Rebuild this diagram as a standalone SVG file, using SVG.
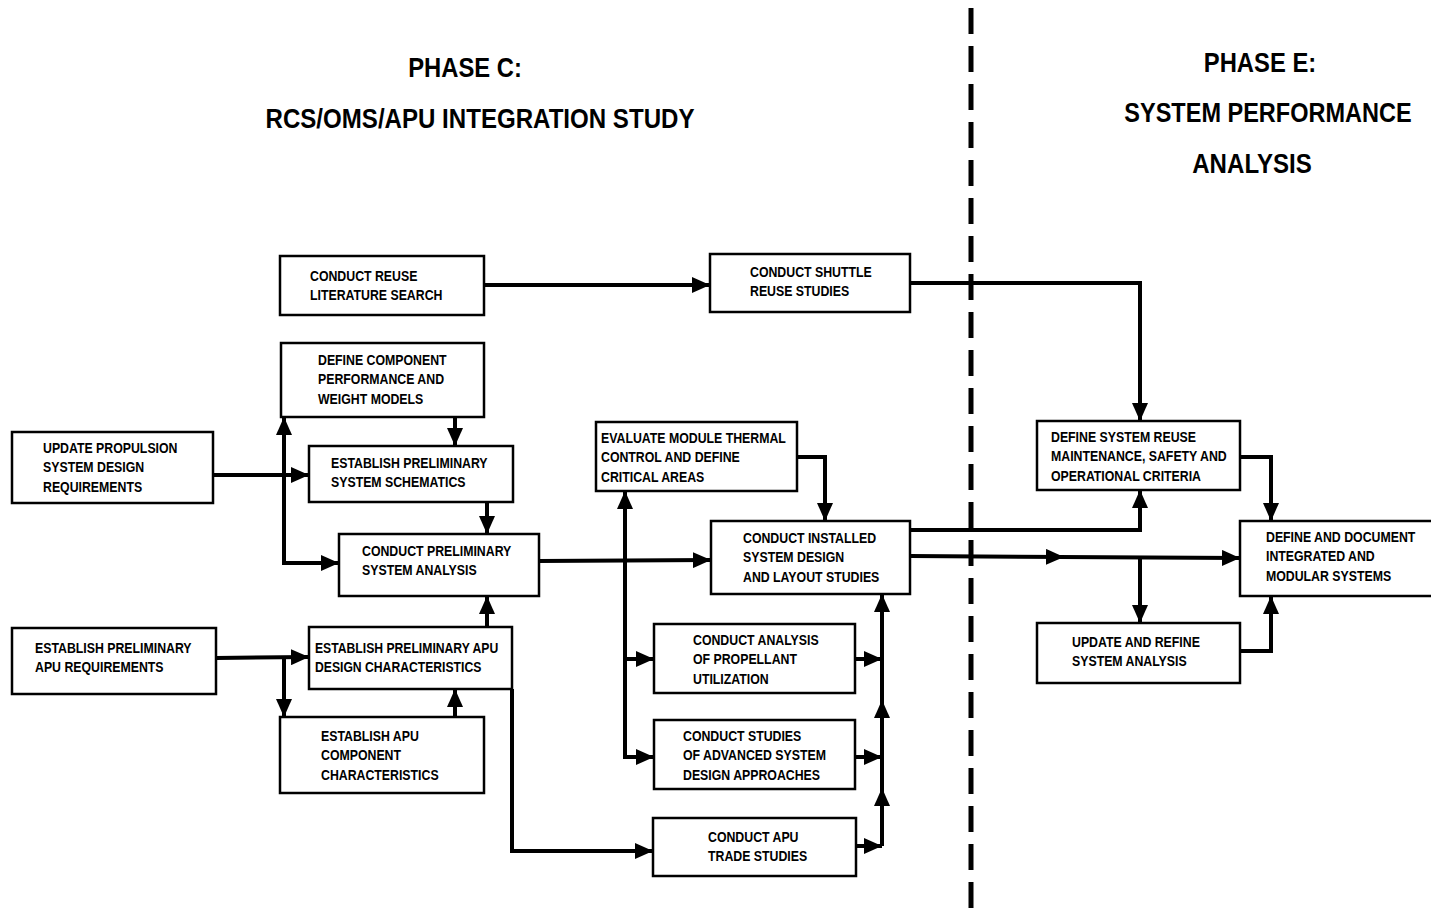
<svg xmlns="http://www.w3.org/2000/svg" width="1431" height="908" viewBox="0 0 1431 908">
<style>
.box{fill:#fff;stroke:#000;stroke-width:2.5}
.t{font-family:"Liberation Sans",Arial,sans-serif;font-weight:bold;font-size:14.5px;fill:#000}
.h{font-family:"Liberation Sans",Arial,sans-serif;font-weight:bold;font-size:28px;fill:#000;text-anchor:middle}
.c path{fill:none;stroke:#000;stroke-width:4;marker-end:url(#ah)}
</style>
<defs>
<marker id="ah" markerUnits="userSpaceOnUse" markerWidth="18" markerHeight="16" refX="18" refY="8" orient="auto">
<path d="M0,0 L18,8 L0,16 z" fill="#000"/>
</marker>
</defs>
<rect width="1431" height="908" fill="#fff"/>

<g id="titles">
<text class="h" transform="translate(465,77) scale(0.85,1)">PHASE C:</text>
<text class="h" transform="translate(480,128) scale(0.86,1)">RCS/OMS/APU INTEGRATION STUDY</text>
<text class="h" transform="translate(1260,72) scale(0.85,1)">PHASE E:</text>
<text class="h" transform="translate(1268,122) scale(0.84,1)">SYSTEM PERFORMANCE</text>
<text class="h" transform="translate(1252,173) scale(0.86,1)">ANALYSIS</text>
</g>

<line id="divider" x1="971" y1="8" x2="971" y2="908" stroke="#000" stroke-width="5" stroke-dasharray="26 12"/>

<g class="c" id="connectors">
<path d="M484,285 L710,285"/>
<path d="M910,283 L1140,283 L1140,421"/>
<path d="M455,417 L455,446"/>
<path d="M213,475 L309,475"/>
<path d="M284,475 L284,417"/>
<path d="M284,475 L284,563 L339,563"/>
<path d="M487,502 L487,534"/>
<path d="M487,627 L487,596"/>
<path d="M539,561 L711,560"/>
<path d="M216,658 L309,657"/>
<path d="M284,658 L284,717"/>
<path d="M455,717 L455,689"/>
<path d="M512,689 L512,851 L653,851"/>
<path d="M625,561 L625,491"/>
<path d="M625,561 L625,757 L654,757"/>
<path d="M625,659 L654,659"/>
<path d="M797,457 L825,457 L825,521"/>
<path d="M855,659 L882,659"/>
<path d="M855,757 L882,757"/>
<path d="M856,846 L882,846"/>
<path d="M882,846 L882,788"/>
<path d="M882,788 L882,700"/>
<path d="M882,700 L882,594"/>
<path d="M910,530 L1140,530 L1140,490"/>
<path d="M910,556 L1064,557"/>
<path d="M1060,557 L1240,558"/>
<path d="M1140,557 L1140,623"/>
<path d="M1240,457 L1271,457 L1271,521"/>
<path d="M1240,651 L1271,651 L1271,596"/>
</g>

<g id="n1"><rect class="box" x="280" y="256" width="204" height="59"/>
<text class="t" transform="translate(310,281) scale(0.85,1)"><tspan x="0">CONDUCT REUSE</tspan><tspan x="0" dy="19.5">LITERATURE SEARCH</tspan></text></g>

<g id="n2"><rect class="box" x="710" y="254" width="200" height="58"/>
<text class="t" transform="translate(750,277) scale(0.85,1)"><tspan x="0">CONDUCT SHUTTLE</tspan><tspan x="0" dy="19.5">REUSE STUDIES</tspan></text></g>

<g id="n3"><rect class="box" x="281" y="343" width="203" height="74"/>
<text class="t" transform="translate(318,365) scale(0.85,1)"><tspan x="0">DEFINE COMPONENT</tspan><tspan x="0" dy="19.5">PERFORMANCE AND</tspan><tspan x="0" dy="19.5">WEIGHT MODELS</tspan></text></g>

<g id="n4"><rect class="box" x="12" y="432" width="201" height="71"/>
<text class="t" transform="translate(43,453) scale(0.85,1)"><tspan x="0">UPDATE PROPULSION</tspan><tspan x="0" dy="19.5">SYSTEM DESIGN</tspan><tspan x="0" dy="19.5">REQUIREMENTS</tspan></text></g>

<g id="n5"><rect class="box" x="309" y="446" width="204" height="56"/>
<text class="t" transform="translate(331,468) scale(0.85,1)"><tspan x="0">ESTABLISH PRELIMINARY</tspan><tspan x="0" dy="19.5">SYSTEM SCHEMATICS</tspan></text></g>

<g id="n6"><rect class="box" x="339" y="534" width="200" height="62"/>
<text class="t" transform="translate(362,556) scale(0.85,1)"><tspan x="0">CONDUCT PRELIMINARY</tspan><tspan x="0" dy="19.5">SYSTEM ANALYSIS</tspan></text></g>

<g id="n7"><rect class="box" x="12" y="628" width="204" height="66"/>
<text class="t" transform="translate(35,653) scale(0.85,1)"><tspan x="0">ESTABLISH PRELIMINARY</tspan><tspan x="0" dy="19.5">APU REQUIREMENTS</tspan></text></g>

<g id="n8"><rect class="box" x="309" y="627" width="203" height="62"/>
<text class="t" transform="translate(315,653) scale(0.84,1)"><tspan x="0">ESTABLISH PRELIMINARY APU</tspan><tspan x="0" dy="19.5">DESIGN CHARACTERISTICS</tspan></text></g>

<g id="n9"><rect class="box" x="280" y="717" width="204" height="76"/>
<text class="t" transform="translate(321,741) scale(0.85,1)"><tspan x="0">ESTABLISH APU</tspan><tspan x="0" dy="19.5">COMPONENT</tspan><tspan x="0" dy="19.5">CHARACTERISTICS</tspan></text></g>

<g id="n10"><rect class="box" x="596" y="422" width="201" height="69"/>
<text class="t" transform="translate(601,443) scale(0.85,1)"><tspan x="0">EVALUATE MODULE THERMAL</tspan><tspan x="0" dy="19.5">CONTROL AND DEFINE</tspan><tspan x="0" dy="19.5">CRITICAL AREAS</tspan></text></g>

<g id="n11"><rect class="box" x="711" y="521" width="199" height="73"/>
<text class="t" transform="translate(743,543) scale(0.85,1)"><tspan x="0">CONDUCT INSTALLED</tspan><tspan x="0" dy="19.5">SYSTEM DESIGN</tspan><tspan x="0" dy="19.5">AND LAYOUT STUDIES</tspan></text></g>

<g id="n12"><rect class="box" x="654" y="624" width="201" height="69"/>
<text class="t" transform="translate(693,645) scale(0.85,1)"><tspan x="0">CONDUCT ANALYSIS</tspan><tspan x="0" dy="19.5">OF PROPELLANT</tspan><tspan x="0" dy="19.5">UTILIZATION</tspan></text></g>

<g id="n13"><rect class="box" x="654" y="720" width="201" height="69"/>
<text class="t" transform="translate(683,741) scale(0.85,1)"><tspan x="0">CONDUCT STUDIES</tspan><tspan x="0" dy="19.5">OF ADVANCED SYSTEM</tspan><tspan x="0" dy="19.5">DESIGN APPROACHES</tspan></text></g>

<g id="n14"><rect class="box" x="653" y="818" width="203" height="58"/>
<text class="t" transform="translate(708,842) scale(0.85,1)"><tspan x="0">CONDUCT APU</tspan><tspan x="0" dy="19.5">TRADE STUDIES</tspan></text></g>

<g id="n15"><rect class="box" x="1037" y="421" width="203" height="69"/>
<text class="t" transform="translate(1051,442) scale(0.85,1)"><tspan x="0">DEFINE SYSTEM REUSE</tspan><tspan x="0" dy="19.5">MAINTENANCE, SAFETY AND</tspan><tspan x="0" dy="19.5">OPERATIONAL CRITERIA</tspan></text></g>

<g id="n16"><rect class="box" x="1240" y="521" width="200" height="75"/>
<text class="t" transform="translate(1266,542) scale(0.85,1)"><tspan x="0">DEFINE AND DOCUMENT</tspan><tspan x="0" dy="19.5">INTEGRATED AND</tspan><tspan x="0" dy="19.5">MODULAR SYSTEMS</tspan></text></g>

<g id="n17"><rect class="box" x="1037" y="623" width="203" height="60"/>
<text class="t" transform="translate(1072,647) scale(0.85,1)"><tspan x="0">UPDATE AND REFINE</tspan><tspan x="0" dy="19.5">SYSTEM ANALYSIS</tspan></text></g>
</svg>
